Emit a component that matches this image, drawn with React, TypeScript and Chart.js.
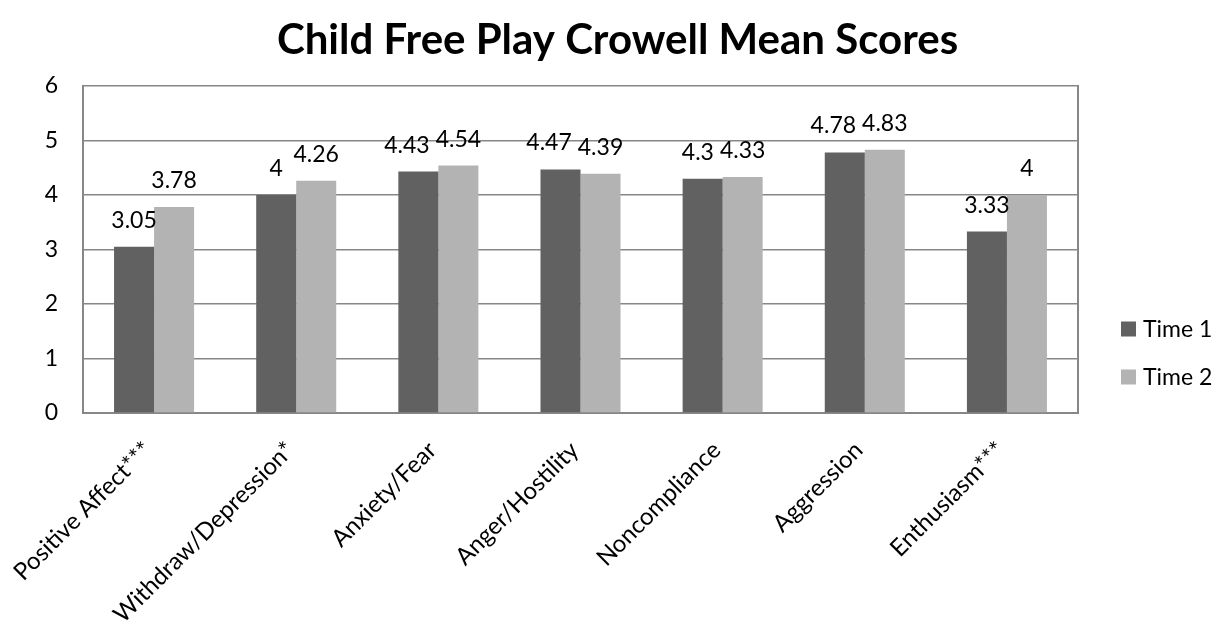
import React, { useEffect, useRef } from 'react';
import { Chart, registerables } from 'chart.js';

Chart.register(...registerables);

// Chart content
const titleText = 'Child Free Play Crowell Mean Scores';
const categories = [
  'Positive Affect***',
  'Withdraw/Depression*',
  'Anxiety/Fear',
  'Anger/Hostility',
  'Noncompliance',
  'Aggression',
  'Enthusiasm***',
];
const seriesNames = ['Time 1', 'Time 2'];
const time1Scores = [3.05, 4, 4.43, 4.47, 4.3, 4.78, 3.33];
const time2Scores = [3.78, 4.26, 4.54, 4.39, 4.33, 4.83, 4];
const yMin = 0;
const yMax = 6;
const yStep = 1;

const seriesColors = ['#616161', '#b3b3b3'];
const lineColor = '#878787';
const fontFamily = 'Lato, "Open Sans", sans-serif';
const labelSize = 23;
const categorySize = 24;

// Value printed above every bar; a left label that would run into its
// neighbour is nudged to the left so both stay readable.
const valueLabels = {
  id: 'valueLabels',
  afterDatasetsDraw(chart: any) {
    const { ctx } = chart;
    ctx.save();
    ctx.font = `${labelSize}px ${fontFamily}`;
    ctx.fillStyle = '#000';
    ctx.textAlign = 'center';
    ctx.textBaseline = 'alphabetic';
    const metas = chart.data.datasets.map((_: any, i: number) => chart.getDatasetMeta(i));
    const gap = 6;
    const textH = labelSize * 0.75;
    categories.forEach((_, j) => {
      const items = chart.data.datasets.map((ds: any, i: number) => {
        const bar = metas[i].data[j];
        const text = String(ds.data[j]);
        return { text, x: bar.x, y: bar.y - 19, w: ctx.measureText(text).width };
      });
      for (let k = items.length - 2; k >= 0; k--) {
        const a = items[k];
        const b = items[k + 1];
        if (Math.abs(a.y - b.y) < textH) {
          const overlap = a.x + a.w / 2 + gap - (b.x - b.w / 2);
          if (overlap > 0) a.x -= overlap;
        }
      }
      items.forEach((it: any) => ctx.fillText(it.text, it.x, it.y));
    });
    ctx.restore();
  },
};

// Legend stacked to the right of the plot
const sideLegend = {
  id: 'sideLegend',
  afterDraw(chart: any) {
    const { ctx, chartArea } = chart;
    ctx.save();
    ctx.font = `${labelSize}px ${fontFamily}`;
    ctx.textAlign = 'left';
    ctx.textBaseline = 'alphabetic';
    const boxSize = 15;
    const x = chartArea.right + 43;
    chart.data.datasets.forEach((ds: any, i: number) => {
      const cy = chartArea.bottom - 84 + i * 48;
      ctx.fillStyle = ds.backgroundColor;
      ctx.fillRect(x, cy - boxSize / 2, boxSize, boxSize);
      ctx.fillStyle = '#000';
      ctx.fillText(ds.label, x + boxSize + 7, cy + 8);
    });
    ctx.restore();
  },
};

export default function App() {
  const canvasRef = useRef<HTMLCanvasElement | null>(null);

  useEffect(() => {
    if (!canvasRef.current) return;
    const chart = new Chart(canvasRef.current, {
      type: 'bar',
      data: {
        labels: categories,
        datasets: [
          {
            label: seriesNames[0],
            data: time1Scores,
            backgroundColor: seriesColors[0],
            barPercentage: 1,
            categoryPercentage: 0.563,
          },
          {
            label: seriesNames[1],
            data: time2Scores,
            backgroundColor: seriesColors[1],
            barPercentage: 1,
            categoryPercentage: 0.563,
          },
        ],
      },
      options: {
        responsive: false,
        animation: false,
        events: [],
        layout: { padding: { left: 14, right: 0, top: 0, bottom: 0 } },
        plugins: {
          legend: { display: false },
          tooltip: { enabled: false },
          title: {
            display: true,
            text: titleText,
            color: '#000',
            font: { family: fontFamily, size: 42, weight: 'bold', lineHeight: 1.2 },
            padding: { top: 15, bottom: 20.6 },
          },
        },
        scales: {
          x: {
            grid: { display: false, drawTicks: false },
            border: { display: true, color: lineColor, width: 2 },
            ticks: {
              color: '#000',
              font: { family: fontFamily, size: categorySize },
              minRotation: 45,
              maxRotation: 45,
              autoSkip: false,
              padding: 23,
              labelOffset: -6,
            },
            afterFit(scale: any) {
              scale.height = 213;
              scale.paddingLeft = 0;
              scale.paddingRight = 0;
            },
          },
          y: {
            min: yMin,
            max: yMax,
            grid: { color: lineColor, lineWidth: 1.5, drawTicks: false },
            border: { display: true, color: lineColor, width: 2 },
            ticks: {
              stepSize: yStep,
              color: '#000',
              font: { family: fontFamily, size: labelSize },
              padding: 25,
            },
            afterFit(scale: any) {
              scale.width = 69;
            },
          },
          legendSpace: {
            type: 'linear',
            position: 'right',
            display: true,
            grid: { display: false, drawTicks: false },
            border: { display: true, color: lineColor, width: 2 },
            ticks: { display: false },
            afterFit(scale: any) {
              scale.width = 143;
            },
          },
        },
      },
      plugins: [valueLabels, sideLegend],
    } as any);
    return () => chart.destroy();
  }, []);

  return (
    <div style={{ position: 'fixed', left: 0, top: 0, width: 1221, height: 626, background: '#fff' }}>
      <canvas ref={canvasRef} width={1221} height={626} style={{ display: 'block' }} />
    </div>
  );
}
